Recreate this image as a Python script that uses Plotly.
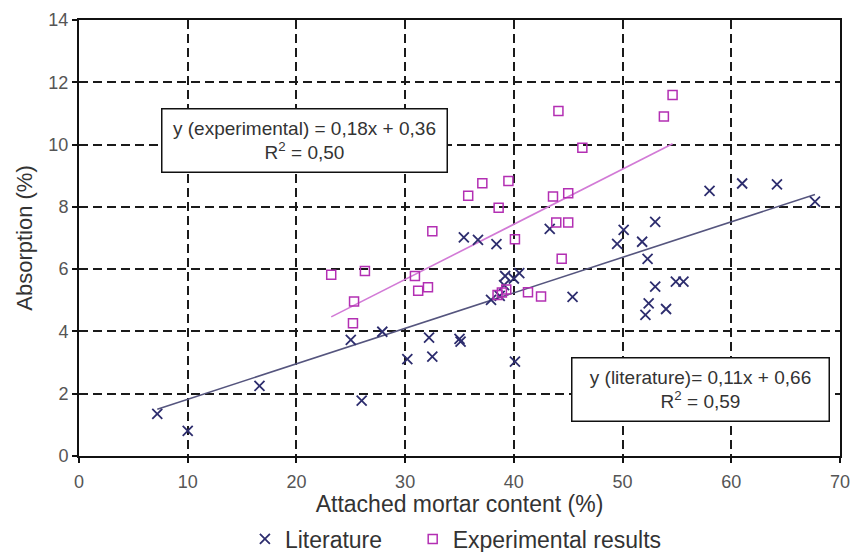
import plotly.graph_objects as go

# Literature data (attached mortar content %, absorption %)
lit_x = [7.2, 10.0, 16.6, 25.0, 26.0, 27.9, 30.2, 32.2, 32.5, 35.0, 35.1, 35.4, 36.7, 38.4,
         37.9, 38.7, 39.1, 39.2, 40.0, 40.5, 40.1, 43.3, 45.4, 49.5, 50.1, 51.8, 52.3, 53.0,
         52.4, 52.1, 53.0, 54.0, 54.9, 55.6, 58.0, 61.0, 64.2, 67.7]
lit_y = [1.35, 0.81, 2.25, 3.73, 1.78, 3.99, 3.11, 3.80, 3.19, 3.76, 3.67, 7.02, 6.94, 6.80,
         5.01, 5.14, 5.49, 5.78, 5.70, 5.87, 3.03, 7.29, 5.11, 6.81, 7.26, 6.88, 6.33, 7.52,
         4.90, 4.53, 5.44, 4.72, 5.60, 5.60, 8.51, 8.75, 8.72, 8.17]

# Experimental results
exp_x = [23.2, 26.3, 25.3, 25.2, 30.9, 31.2, 32.1, 32.5, 35.8, 37.1, 38.6, 39.5, 40.1,
         38.5, 38.9, 39.3, 41.3, 42.5, 43.6, 45.0, 43.9, 45.0, 44.4, 44.1, 46.3, 53.8, 54.6]
exp_y = [5.82, 5.94, 4.96, 4.26, 5.78, 5.31, 5.42, 7.22, 8.36, 8.76, 7.97, 8.83, 6.96,
         5.17, 5.25, 5.35, 5.26, 5.12, 8.33, 8.44, 7.50, 7.50, 6.33, 11.08, 9.90, 10.90, 11.59]

# Trend lines (slope, intercept) as drawn in the figure
exp_fit = [0.177, 0.36]
lit_fit = [0.114, 0.68]

x_ticks = [0, 10, 20, 30, 40, 50, 60, 70]
y_ticks = [0, 2, 4, 6, 8, 10, 12, 14]

FONT = "Arial, Liberation Sans, sans-serif"
LIT_C = "#2d2d6e"
EXP_C = "#b32fb3"

fig = go.Figure()

ex0, ex1 = min(exp_x), max(exp_x)
lx0, lx1 = min(lit_x), max(lit_x)
fig.add_trace(go.Scatter(x=[ex0, ex1], y=[exp_fit[0] * ex0 + exp_fit[1], exp_fit[0] * ex1 + exp_fit[1]],
                         mode="lines", line=dict(color="#d27ad6", width=1.6), showlegend=False,
                         hoverinfo="skip"))
fig.add_trace(go.Scatter(x=[lx0, lx1], y=[lit_fit[0] * lx0 + lit_fit[1], lit_fit[0] * lx1 + lit_fit[1]],
                         mode="lines", line=dict(color="#55557e", width=1.6), showlegend=False,
                         hoverinfo="skip"))

fig.add_trace(go.Scatter(x=lit_x, y=lit_y, mode="markers", name="Literature", legend="legend",
                         marker=dict(symbol="x-thin-open", size=10, color=LIT_C,
                                     line=dict(color=LIT_C, width=1.8))))
fig.add_trace(go.Scatter(x=exp_x, y=exp_y, mode="markers", name="Experimental results",
                         legend="legend2",
                         marker=dict(symbol="square-open", size=9, color=EXP_C,
                                     line=dict(color=EXP_C, width=1.5))))

fig.add_annotation(x=20.75, y=10.13, xref="x", yref="y", showarrow=False,
                   text="y (experimental) = 0,18x + 0,36<br>R<sup>2</sup> = 0,50",
                   font=dict(family=FONT, size=19, color="#333"), align="center",
                   bgcolor="white", bordercolor="#111", borderwidth=1.5, borderpad=6,
                   width=272, height=50)
fig.add_annotation(x=57.2, y=2.15, xref="x", yref="y", showarrow=False,
                   text="y (literature)= 0,11x + 0,66<br>R<sup>2</sup> = 0,59",
                   font=dict(family=FONT, size=19, color="#333"), align="center",
                   bgcolor="white", bordercolor="#111", borderwidth=1.5, borderpad=6,
                   width=244, height=50)

axis_common = dict(showline=True, linecolor="#111", linewidth=2, mirror=True,
                   showgrid=True, gridcolor="#1a1a1a", gridwidth=1.6, griddash="9px,5px",
                   zeroline=False, ticks="outside", ticklen=5, tickcolor="#111", tickwidth=1.5,
                   automargin=False,
                   tickfont=dict(family=FONT, size=18, color="#555"))

fig.update_xaxes(range=[0, 70], tickvals=x_ticks, ticktext=[str(v) for v in x_ticks],
                 title=dict(text="Attached mortar content (%)", standoff=8,
                            font=dict(family=FONT, size=23, color="#333")),
                 ticklabelstandoff=3, **axis_common)
fig.update_yaxes(range=[0, 14], tickvals=y_ticks, ticktext=[str(v) for v in y_ticks],
                 title=dict(text="Absorption (%)", standoff=10,
                            font=dict(family=FONT, size=22, color="#333")),
                 **axis_common)

leg_common = dict(orientation="h", xanchor="left", yref="container", y=1 - 539 / 552,
                  yanchor="middle",
                  font=dict(family=FONT, size=23, color="#333"), itemwidth=30,
                  bgcolor="rgba(0,0,0,0)")
fig.update_layout(width=856, height=552, margin=dict(l=79, r=16, t=20, b=96, autoexpand=False),
                  paper_bgcolor="white", plot_bgcolor="white",
                  legend=dict(x=0.218, **leg_common),
                  legend2=dict(x=0.4385, **leg_common))

fig.write_html("out.html")
